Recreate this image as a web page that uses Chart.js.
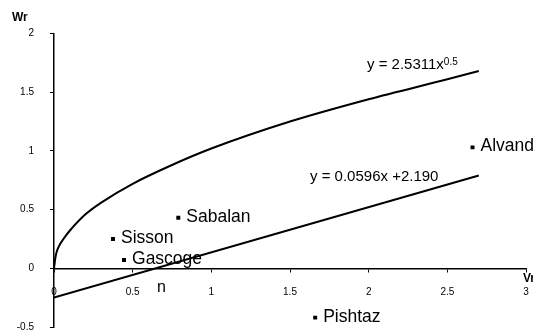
<!DOCTYPE html>
<html>
<head>
<meta charset="utf-8">
<script src="https://cdn.jsdelivr.net/npm/chart.js@4"></script>
<style>
  html, body { margin: 0; padding: 0; background: #fff; }
  #wrap { width: 533px; height: 331px; position: relative; }
</style>
</head>
<body>
<div id="wrap"><canvas id="chart"></canvas></div>
<script>
// fitted power curve
const powerX = [0, 0.01, 0.025, 0.06, 0.1, 0.2, 0.3, 0.5, 0.75, 1, 1.5, 2, 2.5, 2.7];
const powerY = [0, 0.10, 0.17, 0.25, 0.32, 0.46, 0.56, 0.72, 0.88, 1.02, 1.25, 1.44, 1.61, 1.68];

// fitted straight line
const lineX = [0, 2.7];
const lineY = [-0.25, 0.79];

// varieties
const names = ['Sisson', 'Gascoge', 'Sabalan', 'Alvand', 'Pishtaz'];
const varX = [0.375, 0.445, 0.79, 2.66, 1.66];
const varY = [0.25, 0.07, 0.43, 1.03, -0.42];

const xTicks = [0, 0.5, 1, 1.5, 2, 2.5, 3];
const yTicks = [-0.5, 0, 0.5, 1, 1.5, 2];

const toPts = (xs, ys) => xs.map((x, i) => ({ x: x, y: ys[i] }));
const FONT = '"Liberation Sans", Arial, sans-serif';

const labelsPlugin = {
  id: 'labels',
  afterDatasetsDraw(chart) {
    const ctx = chart.ctx;
    const meta = chart.getDatasetMeta(2);
    ctx.save();
    ctx.fillStyle = '#000';
    ctx.textBaseline = 'alphabetic';
    ctx.textAlign = 'left';
    ctx.font = '17.5px ' + FONT;
    meta.data.forEach((pt, i) => {
      ctx.fillText(names[i], pt.x + 8, pt.y + 4);
    });

    // equations
    ctx.font = '15px ' + FONT;
    ctx.fillText('y = 2.5311x', 367, 69);
    const w = ctx.measureText('y = 2.5311x').width;
    ctx.font = '10px ' + FONT;
    ctx.fillText('0.5', 367 + w, 65);
    ctx.font = '15px ' + FONT;
    ctx.fillText('y = 0.0596x +2.190', 310, 181);

    ctx.font = '16px ' + FONT;
    ctx.fillText('n', 157, 292);

    ctx.font = 'bold 12px ' + FONT;
    ctx.fillText('Wr', 12, 21);
    ctx.fillText('Vr', 523, 282);
    ctx.restore();
  }
};

new Chart(document.getElementById('chart'), {
  type: 'scatter',
  data: {
    datasets: [
      {
        data: toPts(powerX, powerY),
        showLine: true,
        borderColor: '#000',
        borderWidth: 2,
        pointRadius: 0,
        cubicInterpolationMode: 'monotone'
      },
      {
        data: toPts(lineX, lineY),
        showLine: true,
        borderColor: '#000',
        borderWidth: 2,
        pointRadius: 0
      },
      {
        data: toPts(varX, varY),
        pointStyle: 'rect',
        pointRadius: 2.8,
        backgroundColor: '#000',
        borderColor: '#000',
        borderWidth: 0
      }
    ]
  },
  options: {
    responsive: true,
    maintainAspectRatio: false,
    animation: false,
    layout: { padding: { top: 33.5, right: 7, bottom: 3, left: 0 } },
    plugins: { legend: { display: false }, tooltip: { enabled: false } },
    scales: {
      x: {
        type: 'linear',
        min: 0,
        max: 3,
        position: { y: 0 },
        afterFit: s => { s.height = 0; s.paddingLeft = 0; s.paddingRight = 0; },
        afterBuildTicks: s => { s.ticks = xTicks.map(v => ({ value: v })); },
        ticks: {
          color: '#000',
          padding: 18,
          maxRotation: 0,
          callback: v => String(v),
          font: { family: FONT, size: 10, lineHeight: 0.5 }
        },
        grid: { drawOnChartArea: false, color: '#000', tickLength: 3 },
        border: { color: '#000', width: 1.5 }
      },
      y: {
        type: 'linear',
        min: -0.5,
        max: 2,
        position: 'left',
        afterFit: s => { s.width = 54; s.paddingTop = 0; s.paddingBottom = 0; },
        afterBuildTicks: s => { s.ticks = yTicks.map(v => ({ value: v })); },
        ticks: {
          color: '#000',
          padding: 16,
          callback: v => String(v),
          font: { family: FONT, size: 10, lineHeight: 0.5 }
        },
        grid: { drawOnChartArea: false, color: '#000', tickLength: 4 },
        border: { color: '#000', width: 1.5 }
      }
    }
  },
  plugins: [labelsPlugin]
});
</script>
</body>
</html>
